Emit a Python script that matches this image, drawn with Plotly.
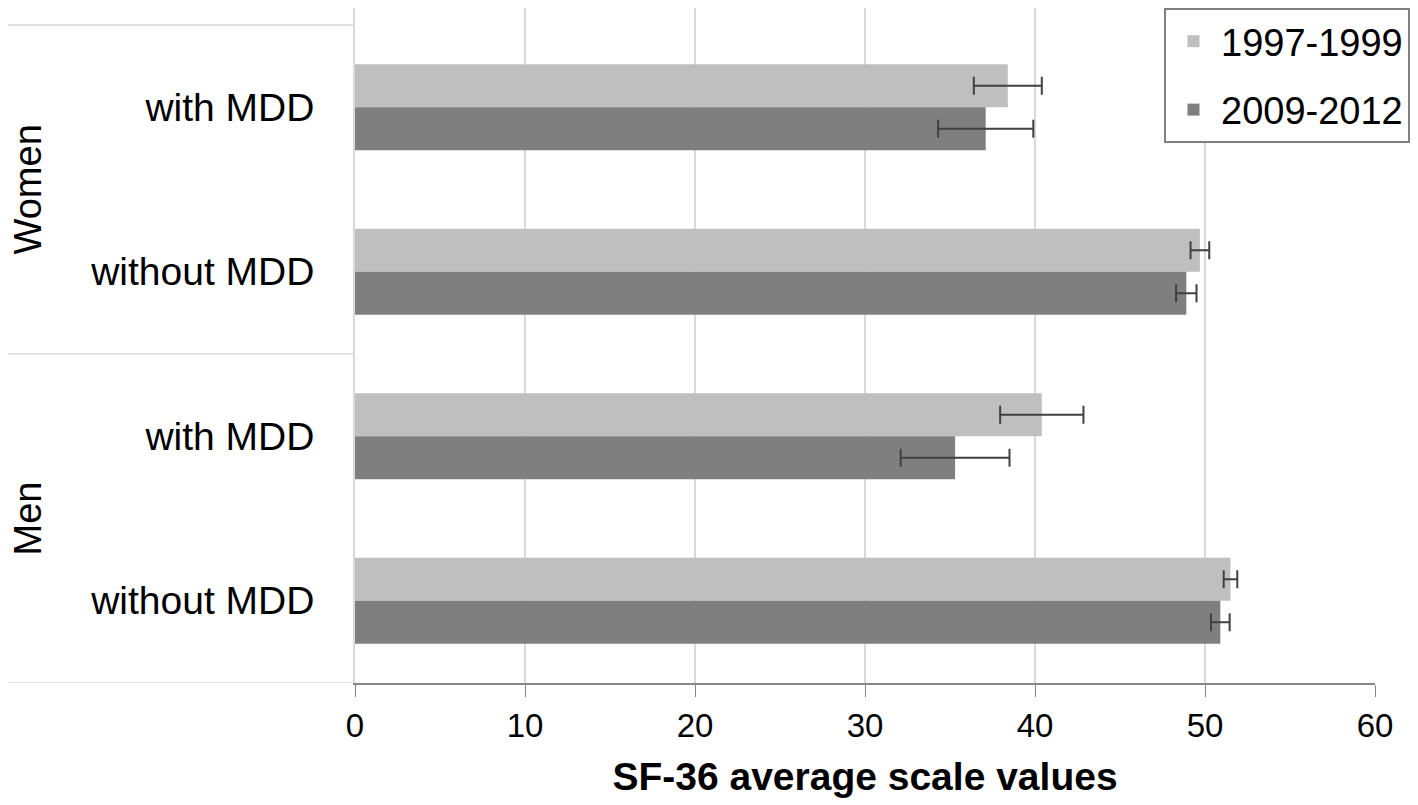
import plotly.graph_objects as go

categories = ["with MDD", "without MDD", "with MDD", "without MDD"]
groups = ["Women", "Men"]
series_names = ["1997-1999", "2009-2012"]
values_1997 = [38.4, 49.7, 40.4, 51.5]
errors_1997 = [2.0, 0.55, 2.45, 0.4]
values_2009 = [37.1, 48.9, 35.3, 50.9]
errors_2009 = [2.8, 0.6, 3.2, 0.55]
x_ticks = [0, 10, 20, 30, 40, 50, 60]

colors = ["#bfbfbf", "#7f7f7f"]
FONT = "Liberation Sans, Arial, sans-serif"

ypos = list(range(len(categories)))

fig = go.Figure()
for name, vals, errs, col in [
    (series_names[0], values_1997, errors_1997, colors[0]),
    (series_names[1], values_2009, errors_2009, colors[1]),
]:
    fig.add_trace(go.Bar(
        y=ypos, x=vals, orientation="h", name=name, legendgroup=name,
        marker=dict(color=col, line=dict(width=0)),
        error_x=dict(type="data", array=errs, visible=True, color="#404040",
                     thickness=2, width=9),
    ))

W, H = 1418, 805
L, R, T, B = 347, 51, 0, 130
plot_w = W - L - R

fig.update_layout(
    width=W, height=H,
    margin=dict(l=L, r=R, t=T, b=B, autoexpand=False),
    paper_bgcolor="white", plot_bgcolor="white",
    barmode="group", bargap=0.477, bargroupgap=0,
    font=dict(family=FONT, color="#000000"),
    showlegend=True,
    legend=dict(
        x=1402 / W, xref="container", xanchor="right",
        y=1, yref="container", yanchor="top",
        bordercolor="#808080", borderwidth=2, bgcolor="white",
        font=dict(size=38, family=FONT), traceorder="grouped",
        tracegroupgap=16, itemwidth=45,
    ),
    xaxis=dict(
        range=[0, 60], tickvals=x_ticks, ticktext=[str(v) for v in x_ticks],
        showgrid=True, gridcolor="#d9d9d9", gridwidth=1.5,
        zeroline=False, showline=True, linecolor="#868686", linewidth=2,
        ticks="outside", ticklen=12, tickcolor="#868686", tickwidth=1,
        tickfont=dict(size=33, family=FONT),
        title=dict(text="<b>SF-36 average scale values</b>",
                   font=dict(size=39, family=FONT), standoff=20),
        automargin=False,
    ),
    yaxis=dict(
        range=[3.5, -0.603], tickvals=ypos, ticktext=categories,
        showgrid=False, zeroline=False, showline=True,
        linecolor="#d9d9d9", linewidth=1.5,
        ticks="", ticklabelstandoff=31,
        tickfont=dict(size=39, family=FONT),
        automargin=False,
    ),
)

# category group separator lines
for yv in [-0.5, 1.5, 3.5]:
    fig.add_shape(type="line", xref="paper", yref="y",
                  x0=-(L + 10) / plot_w, x1=0, y0=yv, y1=yv,
                  line=dict(color="#d9d9d9", width=1.5))

# group labels
for g, yc in zip(groups, [0.5, 2.5]):
    fig.add_annotation(text=g, xref="paper", yref="y",
                       x=-(L - 20) / plot_w, y=yc, textangle=-90,
                       xanchor="center", yanchor="middle",
                       showarrow=False, font=dict(size=38, family=FONT))

fig.write_html("out.html")
